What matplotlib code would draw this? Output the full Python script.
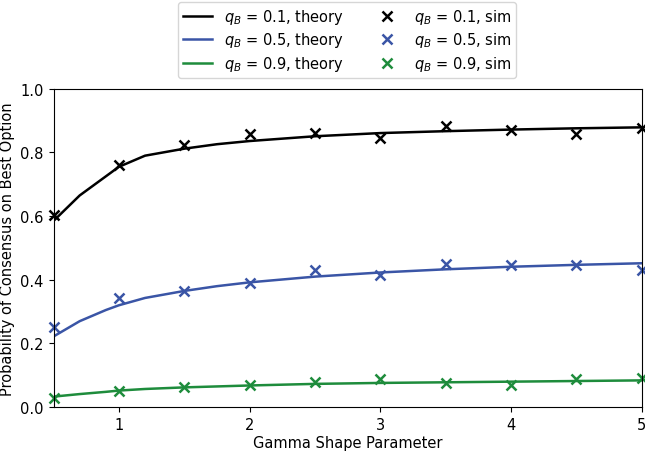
import matplotlib
matplotlib.use('Agg')
import matplotlib.pyplot as plt

# theory curves
theory_x = [0.5, 0.7, 0.9, 1.0, 1.2, 1.5, 1.75, 2.0, 2.5, 3.0, 3.5, 4.0, 4.5, 5.0]
theory_01 = [0.585, 0.665, 0.725, 0.755, 0.79, 0.812, 0.826, 0.836, 0.851, 0.861, 0.867, 0.872, 0.876, 0.879]
theory_05 = [0.222, 0.27, 0.305, 0.32, 0.343, 0.365, 0.38, 0.392, 0.41, 0.423, 0.433, 0.441, 0.447, 0.452]
theory_09 = [0.033, 0.041, 0.048, 0.052, 0.057, 0.062, 0.065, 0.068, 0.073, 0.076, 0.078, 0.080, 0.082, 0.084]

# simulation points
sim_x = [0.5, 1.0, 1.5, 2.0, 2.5, 3.0, 3.5, 4.0, 4.5, 5.0]
sim_01 = [0.605, 0.76, 0.825, 0.857, 0.862, 0.845, 0.882, 0.872, 0.858, 0.878]
sim_05 = [0.252, 0.343, 0.365, 0.39, 0.432, 0.415, 0.45, 0.447, 0.448, 0.43]
sim_09 = [0.028, 0.05, 0.062, 0.068, 0.078, 0.088, 0.075, 0.07, 0.088, 0.09]

colors = ['black', '#3a55a6', '#1e8c3c']
qs = ['0.1', '0.5', '0.9']

fig = plt.figure(figsize=(6.45, 4.56), dpi=100)
ax = fig.add_axes([0.083, 0.105, 0.912, 0.698])

lines = []
for q, t, c in zip(qs, [theory_01, theory_05, theory_09], colors):
    l, = ax.plot(theory_x, t, color=c, lw=1.8, label=r'$q_B$ = %s, theory' % q)
    lines.append(l)
for q, s, c in zip(qs, [sim_01, sim_05, sim_09], colors):
    l, = ax.plot(sim_x, s, 'x', color=c, ms=7, mew=1.8, label=r'$q_B$ = %s, sim' % q, clip_on=False)
    lines.append(l)

ax.set_xlim(0.5, 5)
ax.set_ylim(0, 1.0)
ax.set_xticks([1, 2, 3, 4, 5])
ax.set_xlabel('Gamma Shape Parameter', fontsize=10.5, labelpad=2)
ax.set_ylabel('Probability of Consensus on Best Option', fontsize=10.5)
ax.tick_params(labelsize=10.5)

fig.legend(handles=lines, loc='upper center', bbox_to_anchor=(0.538, 0.997), ncol=2,
           fontsize=10.5, columnspacing=2.0, handlelength=2.0,
           labelspacing=0.3, borderpad=0.35, borderaxespad=0.1)

fig.savefig('out.png', dpi=100)
